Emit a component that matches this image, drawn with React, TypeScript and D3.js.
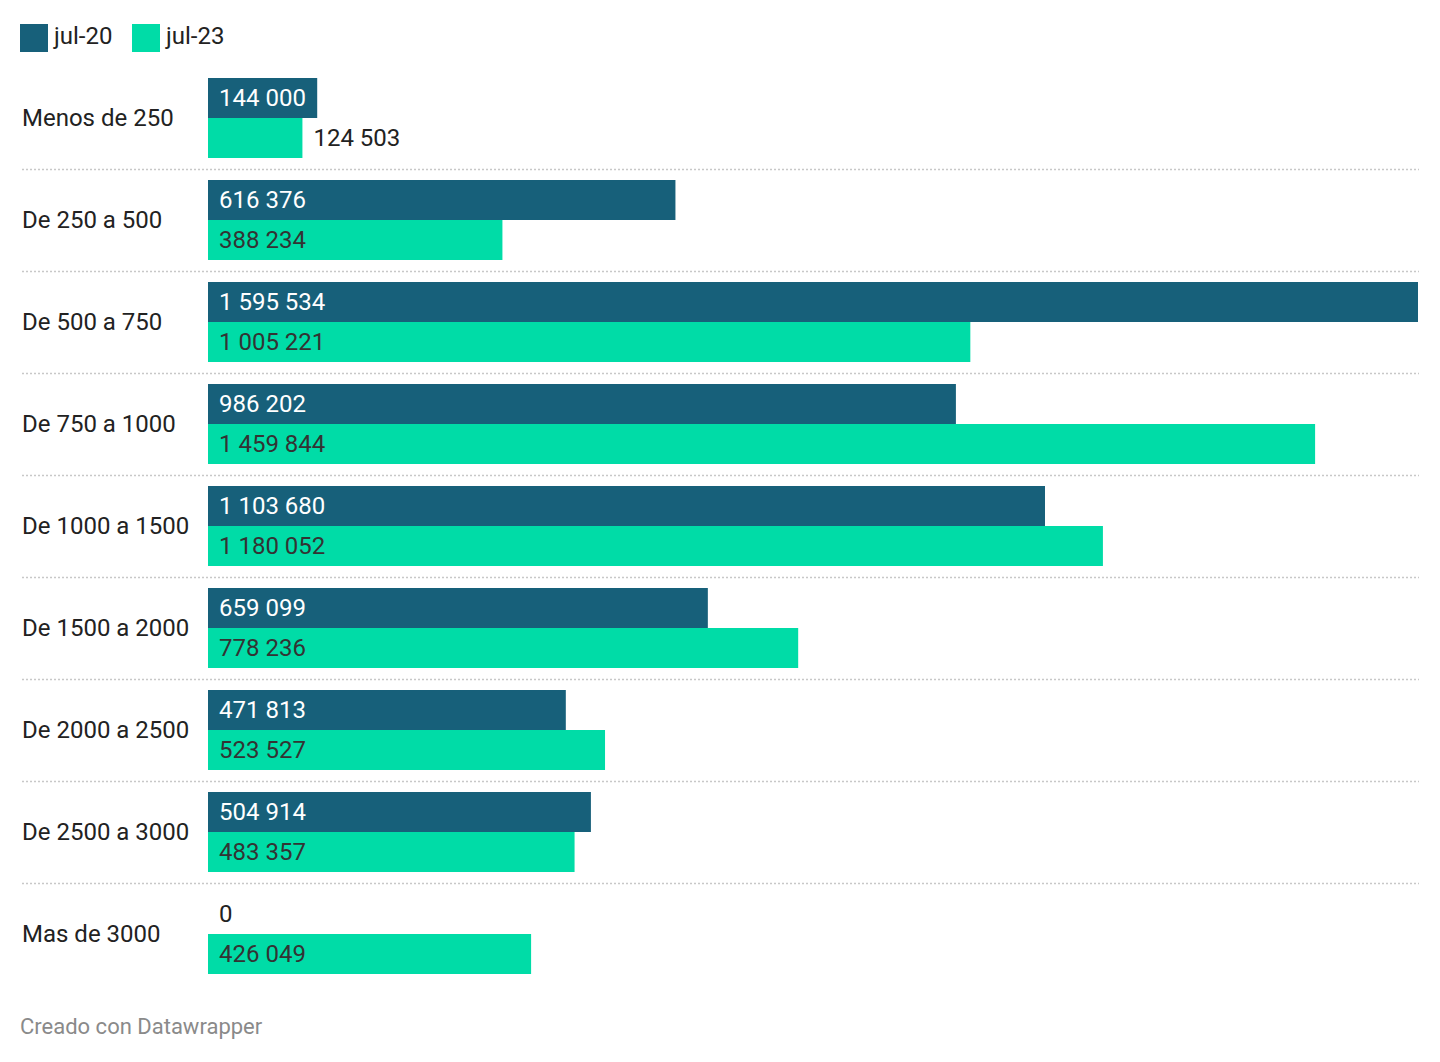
import React from 'react';
import * as d3 from 'd3';

const categories = [
  'Menos de 250',
  'De 250 a 500',
  'De 500 a 750',
  'De 750 a 1000',
  'De 1000 a 1500',
  'De 1500 a 2000',
  'De 2000 a 2500',
  'De 2500 a 3000',
  'Mas de 3000',
];
const jul20 = [144000, 616376, 1595534, 986202, 1103680, 659099, 471813, 504914, 0];
const jul23 = [124503, 388234, 1005221, 1459844, 1180052, 778236, 523527, 483357, 426049];
const seriesNames = ['jul-20', 'jul-23'];

const COLORS = ['#17607a', '#00dca7'];
const FONT = 'Roboto, "Noto Sans", sans-serif';

const fmt = (v: number) => d3.format(',')(v).replace(/,/g, ' ');

export default function App() {
  const width = 1440;
  const height = 1062;
  const x0 = 208;
  const x1 = 1418;
  const top = 78;
  const pitch = 102;
  const barH = 40;

  const x = d3.scaleLinear().domain([0, d3.max([...jul20, ...jul23]) as number]).range([x0, x1]);
  const y = d3.scaleBand<string>()
    .domain(categories)
    .range([top - 11, top - 11 + pitch * categories.length])
    .paddingInner(0)
    .paddingOuter(0);

  return (
    <svg width={width} height={height} style={{ position: 'absolute', left: 0, top: 0, fontFamily: FONT }}>
      <rect width={width} height={height} fill="#fff" />
      {/* legend */}
      {seriesNames.map((s, i) => {
        const lx = i === 0 ? 20 : 132;
        return (
          <g key={s}>
            <rect x={lx} y={24} width={28} height={28} fill={COLORS[i]} />
            <text x={lx + 34} y={44} fontSize={24} fill="#222">{s}</text>
          </g>
        );
      })}
      {categories.map((c, i) => {
        const gy = (y(c) as number) + 11;
        const vals = [jul20[i], jul23[i]];
        return (
          <g key={c}>
            <text x={22} y={gy + barH} dy="0.33em" fontSize={24} fill="#222">{c}</text>
            {vals.map((v, j) => {
              const by = gy + j * barH;
              const w = x(v) - x0;
              const textW = fmt(v).length * 12.5;
              const inside = w > textW + 20;
              return (
                <g key={j}>
                  {v > 0 && <rect x={x0} y={by} width={w} height={barH} fill={COLORS[j]} />}
                  <text
                    x={inside ? x0 + 11 : x(v) + 11}
                    y={by + barH / 2}
                    dy="0.33em"
                    fontSize={24}
                    fill={inside ? (j === 0 ? '#fff' : '#333') : '#222'}
                  >
                    {fmt(v)}
                  </text>
                </g>
              );
            })}
            {i < categories.length - 1 && (
              <line
                x1={22}
                x2={x1 + 1}
                y1={gy + pitch - 11 + 0.5}
                y2={gy + pitch - 11 + 0.5}
                stroke="#c8c8c8"
                strokeWidth={1.5}
                strokeDasharray="2,2"
              />
            )}
          </g>
        );
      })}
      <text x={20} y={1034} fontSize={22} fill="#8a8a8a">Creado con Datawrapper</text>
    </svg>
  );
}
